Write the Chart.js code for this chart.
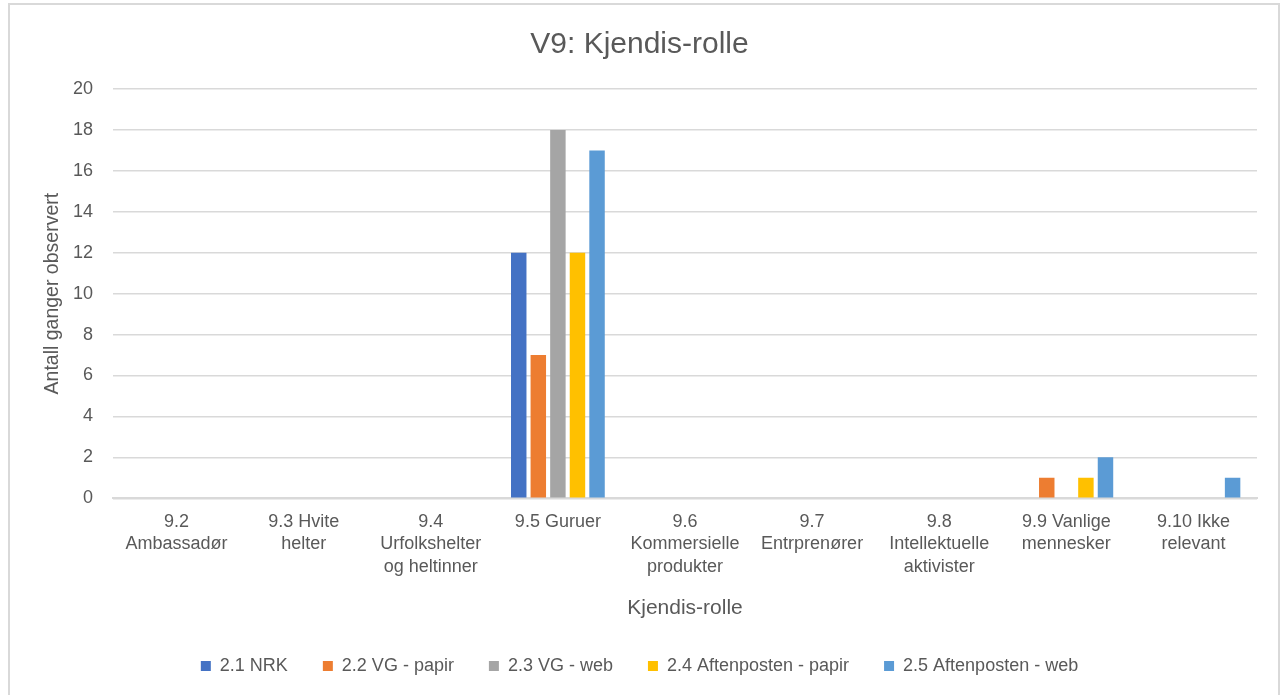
<!DOCTYPE html>
<html>
<head>
<meta charset="utf-8">
<script src="https://cdn.jsdelivr.net/npm/chart.js@4"></script>
<style>
  html, body { margin: 0; padding: 0; background: #fff; }
  #wrap { position: absolute; left: 0; top: 0; width: 1285px; height: 695px; }
  #frame { position: absolute; left: 8px; top: 3px; width: 1272px; height: 700px; border: 2px solid #d9d9d9; box-sizing: border-box; pointer-events: none; }
</style>
</head>
<body>
<div id="wrap"><canvas id="c" width="1285" height="695"></canvas></div>
<div id="frame"></div>
<script>
const categories = [
  ["9.2", "Ambassadør"],
  ["9.3 Hvite", "helter"],
  ["9.4", "Urfolkshelter", "og heltinner"],
  ["9.5 Guruer"],
  ["9.6", "Kommersielle", "produkter"],
  ["9.7", "Entrprenører"],
  ["9.8", "Intellektuelle", "aktivister"],
  ["9.9 Vanlige", "mennesker"],
  ["9.10 Ikke", "relevant"]
];
const seriesNames = ["2.1 NRK", "2.2 VG - papir", "2.3 VG - web", "2.4 Aftenposten - papir", "2.5 Aftenposten - web"];
const nrk        = [0, 0, 0, 12, 0, 0, 0, 0, 0];
const vgPapir    = [0, 0, 0, 7, 0, 0, 0, 1, 0];
const vgWeb      = [0, 0, 0, 18, 0, 0, 0, 0, 0];
const aftenPapir = [0, 0, 0, 12, 0, 0, 0, 1, 0];
const aftenWeb   = [0, 0, 0, 17, 0, 0, 0, 2, 1];
const yTicks = [0, 2, 4, 6, 8, 10, 12, 14, 16, 18, 20];

const colors = ["#4472C4", "#ED7D31", "#A5A5A5", "#FFC000", "#5B9BD5"];
const seriesData = [nrk, vgPapir, vgWeb, aftenPapir, aftenWeb];
const FONT = "'Liberation Sans', 'DejaVu Sans', sans-serif";
const TXT = "#595959";

new Chart(document.getElementById('c'), {
  type: 'bar',
  data: {
    labels: categories,
    datasets: seriesNames.map((n, i) => ({
      label: n,
      data: seriesData[i],
      backgroundColor: colors[i],
      borderWidth: 0,
      categoryPercentage: 0.77,
      barPercentage: 0.79
    }))
  },
  options: {
    responsive: false,
    animation: false,
    devicePixelRatio: 1,
    layout: { padding: { left: 22, right: 28, top: 19, bottom: 10 } },
    plugins: {
      title: {
        display: true,
        text: "V9: Kjendis-rolle",
        color: TXT,
        font: { family: FONT, size: 30, weight: 'normal' },
        padding: { top: 8, bottom: 26 }
      },
      legend: {
        position: 'bottom',
        labels: {
          color: TXT,
          font: { family: FONT, size: 18 },
          boxWidth: 10,
          boxHeight: 10,
          padding: 35
        }
      },
      tooltip: { enabled: false }
    },
    scales: {
      x: {
        grid: { display: false, drawTicks: false },
        border: { display: true, color: "#d9d9d9", width: 2 },
        ticks: {
          color: TXT,
          font: { family: FONT, size: 18, lineHeight: 1.25 },
          maxRotation: 0,
          minRotation: 0,
          autoSkip: false,
          padding: 12
        },
        title: {
          display: true,
          text: "Kjendis-rolle",
          color: TXT,
          font: { family: FONT, size: 21 },
          padding: { top: 6, bottom: 1 }
        }
      },
      y: {
        min: 0,
        max: 20,
        afterBuildTicks: (s) => { s.ticks = yTicks.map(v => ({ value: v })); },
        grid: { color: "#d9d9d9", lineWidth: 1.5, drawTicks: false },
        border: { display: false },
        ticks: {
          color: TXT,
          font: { family: FONT, size: 18 },
          padding: 20
        },
        title: {
          display: true,
          text: "Antall ganger observert",
          color: TXT,
          font: { family: FONT, size: 19.5 },
          padding: { top: 19, bottom: 8 }
        },
        afterFit: (s) => { s.width = 91; }
      }
    }
  }
});
</script>
</body>
</html>
